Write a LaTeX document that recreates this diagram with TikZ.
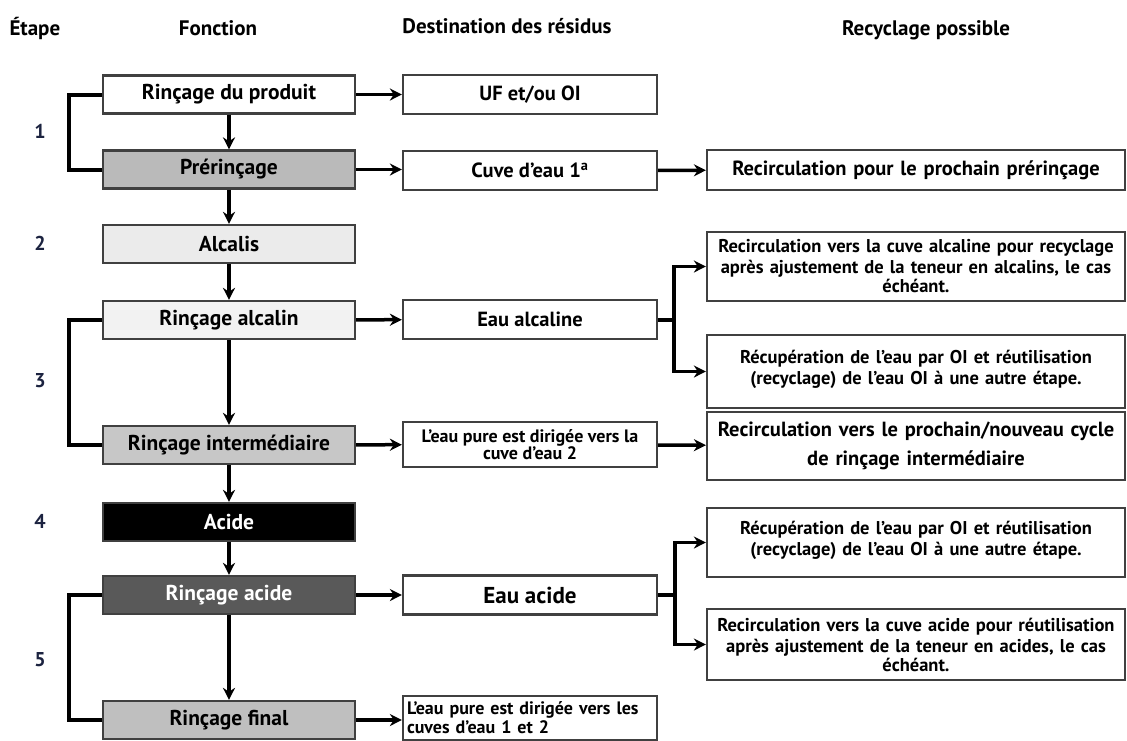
\documentclass[tikz,border=0pt]{standalone}
\usepackage{fontspec}
\setmainfont{PT Sans}
\usepackage{xcolor}
\usepackage{tikz}
\usetikzlibrary{arrows.meta}
\definecolor{stepblue}{HTML}{1C2340}
\tikzstyle{arrow} = [line width=3.5pt,-{Stealth[length=12pt,width=12pt]}]
\tikzstyle{link} = [line width=4pt]
\tikzstyle{box} = [draw=black!75, line width=2.2pt, inner sep=2pt, align=center, font=\fontsize{20.5}{22}\selectfont\bfseries]
\tikzstyle{fbox} = [box, minimum width=252pt, minimum height=38pt, font=\fontsize{21.5}{22}\selectfont\bfseries]
\tikzstyle{dbox} = [box, minimum width=254pt, minimum height=39pt]
\tikzstyle{rbox} = [box, minimum width=418pt, text width=414pt, font=\fontsize{18.5}{21}\selectfont\bfseries]
\tikzstyle{head} = [font=\fontsize{21}{22}\selectfont\bfseries]
\tikzstyle{num} = [text=stepblue, font=\fontsize{20}{22}\selectfont\bfseries]

\begin{document}
\begin{tikzpicture}[x=1pt,y=-1pt]
	\useasboundingbox (0,0) rectangle (1127,740);
	
	% Headers:
	\node[head, anchor=west] (hstep) at (6,28) {Étape};
	\node[head] (hfct) at (218,28) {Fonction};
	\node[head] (hdest) at (507,26) {Destination des résidus};
	\node[head] (hrec) at (926,30) {Recyclage possible};
	
	% Step numbers:
	\node[num] (n1) at (40,131) {1};
	\node[num] (n2) at (40,243) {2};
	\node[num] (n3) at (40,381) {3};
	\node[num] (n4) at (40,521) {4};
	\node[num] (n5) at (40,660) {5};
	
	% Function column:
	\node[fbox, fill=white] (rprod) at (229,94.5) {Rinçage du produit};
	\node[fbox, fill=black!27] (prerin) at (229,169.5) {Prérinçage};
	\node[fbox, fill=black!8] (alcalis) at (229,244) {Alcalis};
	\node[fbox, fill=black!5] (ralc) at (229,320) {Rinçage alcalin};
	\node[fbox, fill=black!22] (rint) at (229,445) {Rinçage intermédiaire};
	\node[fbox, fill=black, text=white] (acide) at (229,522) {Acide};
	\node[fbox, fill=black!65, text=white] (racide) at (229,595) {Rinçage acide};
	\node[fbox, fill=black!25] (rfin) at (229,720) {Rinçage final};
	
	% Destination column:
	\node[dbox] (uf) at (530,94.5) {UF et/ou OI};
	\node[dbox] (cuve) at (530,170.5) {Cuve d’eau 1\textsuperscript{a}};
	\node[dbox] (ealc) at (530,319.5) {Eau alcaline};
	\node[dbox, minimum height=45pt, font=\fontsize{18}{15}\selectfont\bfseries] (epure) at (530,444.5) {L’eau pure est dirigée vers la\\cuve d’eau 2};
	\node[dbox, font=\fontsize{23}{24}\selectfont\bfseries] (eacide) at (530,595) {Eau acide};
	\node[dbox, minimum height=44pt, align=left, text width=246pt, font=\fontsize{18}{19}\selectfont\bfseries] (epurefin) at (530,718) {L’eau pure est dirigée vers les\\cuves d’eau 1 et 2};
	
	% Recycling column:
	\node[rbox, minimum height=40pt, font=\fontsize{20.5}{22}\selectfont\bfseries] (recpre) at (916,170) {Recirculation pour le prochain prérinçage};
	\node[rbox, minimum height=69pt] (recalc) at (916,266.5) {Recirculation vers la cuve alcaline pour recyclage\\après ajustement de la teneur en alcalins, le cas\\[-2pt]échéant.};
	\node[rbox, minimum height=73pt, text depth=30pt] (recup1) at (916,371.5) {Récupération de l’eau par OI et réutilisation\\(recyclage) de l’eau OI à une autre étape.};
	\node[rbox, minimum height=68pt, font=\fontsize{20.5}{29}\selectfont\bfseries] (recint) at (916,446) {Recirculation vers le prochain/nouveau cycle\\de rinçage intermédiaire};
	\node[rbox, minimum height=69pt, text depth=30pt] (recup2) at (916,542.5) {Récupération de l’eau par OI et réutilisation\\(recyclage) de l’eau OI à une autre étape.};
	\node[rbox, minimum height=71pt] (recacide) at (916,644.5) {Recirculation vers la cuve acide pour réutilisation\\après ajustement de la teneur en acides, le cas\\[-2pt]échéant.};
	
	% Vertical flow:
	\draw[arrow] (rprod) -- (prerin);
	\draw[arrow] (prerin) -- (alcalis);
	\draw[arrow] (alcalis) -- (ralc);
	\draw[arrow] (ralc) -- (rint);
	\draw[arrow] (rint) -- (acide);
	\draw[arrow] (acide) -- (racide);
	\draw[arrow] (racide) -- (rfin);
	
	% Bypass lines:
	\draw[link] (rprod.west) -- ++(-33,0) |- (prerin.west);
	\draw[link] (ralc.west) -- ++(-33,0) |- (rint.west);
	\draw[link] (racide.west) -- ++(-33,0) |- (rfin.west);
	
	% To destination:
	\draw[arrow] (rprod) -- (uf);
	\draw[arrow] (prerin.east) -- (cuve.west |- prerin.east);
	\draw[arrow] (ralc) -- (ealc);
	\draw[arrow] (rint) -- (epure);
	\draw[arrow] (racide) -- (eacide);
	\draw[arrow] (rfin.east) -- (epurefin.west |- rfin.east);
	
	% To recycling:
	\draw[arrow] (cuve) -- (recpre);
	\draw[arrow] (epure) -- (recint);
	\coordinate (balc) at ([xshift=16pt]ealc.east);
	\draw[link] (ealc.east) -- (balc);
	\draw[arrow] (balc) |- (recalc.west);
	\draw[arrow] (balc) |- (recup1.west);
	\coordinate (bacide) at ([xshift=17pt]eacide.east);
	\draw[link] (eacide.east) -- (bacide);
	\draw[arrow] (bacide) |- (recup2.west);
	\draw[arrow] (bacide) |- (recacide.west);
	
\end{tikzpicture}
\end{document}
